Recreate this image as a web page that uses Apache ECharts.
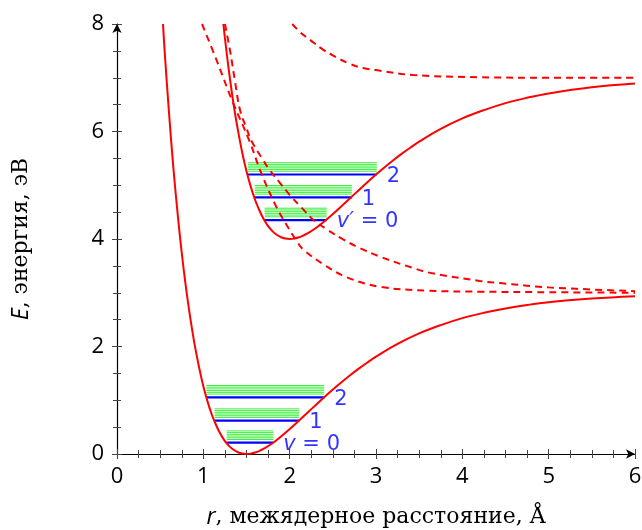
<!DOCTYPE html>
<html>
<head>
<meta charset="utf-8">
<script src="https://cdn.jsdelivr.net/npm/echarts@6/dist/echarts.min.js"></script>
<style>html,body{margin:0;padding:0;background:#fff;overflow:hidden}#c{width:642px;height:530px}</style>
</head>
<body>
<div id="c"></div>
<script>
// ---- data ----
const groundCurve = [[0.533,8.0],[0.55,7.54],[0.6,6.40],[0.65,5.38],[0.7,4.51],[0.75,3.74],[0.8,3.08],[0.85,2.52],[0.9,2.03],[0.95,1.62],[1.0,1.26],[1.05,0.97],[1.1,0.726],[1.15,0.53],[1.2,0.367],[1.25,0.24],[1.3,0.147],[1.35,0.078],[1.4,0.033],[1.45,0.008],[1.5,0],[1.55,0.007],[1.6,0.027],[1.65,0.058],[1.7,0.099],[1.8,0.20],[1.9,0.326],[2.0,0.464],[2.1,0.61],[2.2,0.760],[2.3,0.909],[2.4,1.056],[2.5,1.198],[2.6,1.335],[2.7,1.465],[2.8,1.588],[2.9,1.703],[3.0,1.811],[3.25,2.048],[3.5,2.243],[3.75,2.398],[4.0,2.528],[4.25,2.628],[4.5,2.709],[4.75,2.772],[5.0,2.822],[5.5,2.891],[6.0,2.934]];
const excitedCurve = [[1.232,8.0],[1.25,7.74],[1.275,7.40],[1.3,7.08],[1.325,6.79],[1.35,6.51],[1.375,6.26],[1.4,6.03],[1.45,5.61],[1.5,5.26],[1.55,4.97],[1.6,4.726],[1.65,4.53],[1.7,4.367],[1.75,4.24],[1.8,4.147],[1.85,4.078],[1.9,4.033],[1.95,4.008],[2.0,4.0],[2.05,4.007],[2.1,4.027],[2.15,4.058],[2.2,4.099],[2.3,4.20],[2.4,4.326],[2.5,4.464],[2.6,4.61],[2.7,4.760],[2.8,4.909],[2.9,5.056],[3.0,5.198],[3.1,5.335],[3.2,5.465],[3.3,5.588],[3.4,5.703],[3.5,5.811],[3.75,6.048],[4.0,6.243],[4.25,6.398],[4.5,6.528],[4.75,6.628],[5.0,6.709],[5.5,6.822],[6.0,6.891]];
const repulsiveA = [[0.985,8.0],[1.16,7.3],[1.33,6.59],[1.54,5.80],[1.66,5.27],[1.83,4.65],[1.95,4.30],[2.09,3.94],[2.16,3.80],[2.4,3.52],[2.66,3.29],[3.05,3.11],[3.6,3.04],[4.2,3.02],[5.0,3.01],[6.0,3.0]];
const repulsiveB = [[1.25,8.0],[1.31,7.5],[1.37,6.9],[1.425,6.4],[1.5,6.06],[1.56,5.82],[1.68,5.50],[1.77,5.28],[1.88,5.06],[2.0,4.82],[2.14,4.58],[2.28,4.35],[2.44,4.17],[2.6,4.01],[2.8,3.84],[3.05,3.67],[3.43,3.46],[3.63,3.37],[4.2,3.22],[4.44,3.18],[5.0,3.10],[6.0,3.03]];
const repulsiveC = [[2.03,8.0],[2.12,7.85],[2.24,7.70],[2.39,7.52],[2.53,7.39],[2.68,7.27],[2.85,7.18],[3.05,7.13],[3.43,7.05],[4.2,7.01],[5.0,7.0],[6.0,7.0]];

const groundLevelE = [0.21, 0.62, 1.055];
const groundLevelL = [1.27, 1.13, 1.035];
const groundLevelR = [1.81, 2.11, 2.40];
const excitedLevelE = [4.353, 4.775, 5.20];
const excitedLevelL = [1.71, 1.595, 1.515];
const excitedLevelR = [2.43, 2.72, 3.01];
const rotOffsets = [0.06, 0.092, 0.124, 0.156, 0.188, 0.22];
const groundLabels = ['{i|v} = 0', '1', '2'];
const excitedLabels = ['{i|v′} = 0', '1', '2'];

const xMin = 0, xMax = 6, xStep = 1;
const yMin = 0, yMax = 8, yStep = 2;

// ---- chart ----
const RED = '#ff0000', BLUE = '#0000ff', GREEN = '#3cf03c';
const sansFont = '"Open Sans", sans-serif';
const labelFont = '"DejaVu Sans", sans-serif';
const serifFont = '"DejaVu Serif", serif';

const series = [];
function levelSeries(E, L, R, labels) {
  for (let i = 0; i < E.length; i++) {
    rotOffsets.forEach(function (o) {
      series.push({type:'line', data:[[L[i], E[i]+o],[R[i], E[i]+o]], symbol:'none', silent:true,
        lineStyle:{color:GREEN, width:1}, z:2});
    });
    series.push({type:'line', data:[[L[i], E[i]],[R[i], E[i]]], symbol:'none', silent:true,
      lineStyle:{color:BLUE, width:2.2}, z:3});
    series.push({type:'scatter', data:[[R[i], E[i]]], symbol:'circle', symbolSize:2,
      itemStyle:{color:'rgba(0,0,0,0)'}, silent:true, z:5,
      label:{show:true, position:'right', distance:9, offset:[0,2], formatter:labels[i], color:BLUE,
        fontFamily:labelFont, fontSize:21,
        rich:{i:{fontStyle:'italic', fontFamily:labelFont, fontSize:21, color:BLUE}}}});
  }
}
levelSeries(groundLevelE, groundLevelL, groundLevelR, groundLabels);
levelSeries(excitedLevelE, excitedLevelL, excitedLevelR, excitedLabels);

function curve(data, dashed) {
  series.push({type:'line', data:data, symbol:'none', smooth:0.4, silent:true, z:4,
    lineStyle:{color:RED, width:2, type: dashed ? [7,5] : 'solid'}});
}
curve(groundCurve, false);
curve(excitedCurve, false);
curve(repulsiveA, true);
curve(repulsiveB, true);
curve(repulsiveC, true);

const tickCol = '#444';
const chart = echarts.init(document.getElementById('c'), null, {renderer:'canvas'});
chart.setOption({
  animation:false,
  grid:{left:117, right:7, top:24, bottom:76, containLabel:false, outerBoundsMode:'none'},
  xAxis:[
    {type:'value', min:xMin, max:xMax, interval:xStep,
     axisLine:{show:true, lineStyle:{color:'#000', width:1.2}, symbol:['none','arrow'], symbolSize:[7,9]},
     axisTick:{show:true, length:5, lineStyle:{color:tickCol}},
     minorTick:{show:true, splitNumber:4, length:4, lineStyle:{color:tickCol}},
     splitLine:{show:false}, minorSplitLine:{show:false},
     axisLabel:{color:'#000', fontSize:22, fontFamily:sansFont, margin:12},
     name:'{i|r}, межядерное расстояние, Å', nameLocation:'middle', nameGap:52,
     nameTextStyle:{color:'#000', fontSize:22, fontFamily:serifFont,
       rich:{i:{fontStyle:'italic', fontFamily:sansFont, fontSize:23, color:'#000'}}}},
    {type:'value', min:xMin, max:xMax, interval:xStep, position:'bottom',
     axisLine:{show:false}, axisLabel:{show:false},
     axisTick:{show:true, inside:true, length:5, lineStyle:{color:tickCol}},
     minorTick:{show:true, splitNumber:4, length:4, lineStyle:{color:tickCol}},
     splitLine:{show:false}}
  ],
  yAxis:[
    {type:'value', min:yMin, max:yMax, interval:yStep,
     axisLine:{show:true, lineStyle:{color:'#000', width:1.2}, symbol:['none','arrow'], symbolSize:[7,9]},
     axisTick:{show:true, length:5, lineStyle:{color:tickCol}},
     minorTick:{show:true, splitNumber:4, length:4, lineStyle:{color:tickCol}},
     splitLine:{show:false}, minorSplitLine:{show:false},
     axisLabel:{color:'#000', fontSize:22, fontFamily:sansFont, margin:13},
     name:'{i|E}, энергия, эВ', nameLocation:'middle', nameGap:84,
     nameTextStyle:{color:'#000', fontSize:22, fontFamily:serifFont,
       rich:{i:{fontStyle:'italic', fontFamily:sansFont, fontSize:23, color:'#000'}}}},
    {type:'value', min:yMin, max:yMax, interval:yStep, position:'left',
     axisLine:{show:false}, axisLabel:{show:false},
     axisTick:{show:true, inside:true, length:5, lineStyle:{color:tickCol}},
     minorTick:{show:true, splitNumber:4, length:4, lineStyle:{color:tickCol}},
     splitLine:{show:false}}
  ],
  series:series
});
</script>
</body>
</html>
